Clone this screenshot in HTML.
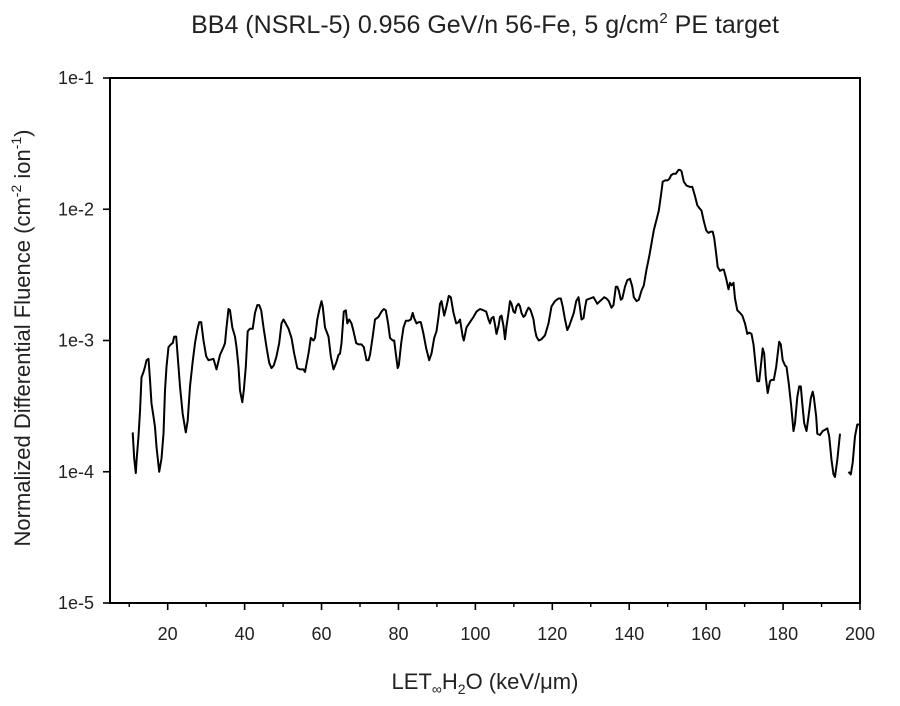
<!DOCTYPE html>
<html><head><meta charset="utf-8"><style>
html,body{margin:0;padding:0;background:#fff;}
svg{display:block;font-family:"Liberation Sans",sans-serif;}
</style></head><body>
<svg width="900" height="706" viewBox="0 0 900 706">
<text x="485" y="33" text-anchor="middle" font-size="25" fill="#222">BB4 (NSRL-5) 0.956 GeV/n 56-Fe, 5 g/cm<tspan dy="-10" font-size="15">2</tspan><tspan dy="10"> PE target</tspan></text>
<g id="axes"></g>
<path id="s1" fill="none" stroke="#000" stroke-width="2" stroke-linejoin="round"/>
<path id="s2" fill="none" stroke="#000" stroke-width="2" stroke-linejoin="round"/>
<rect x="110" y="78" width="750" height="525" fill="none" stroke="#000" stroke-width="2"/>
<text transform="translate(30,338) rotate(-90)" text-anchor="middle" font-size="22" fill="#222">Normalized Differential Fluence (cm<tspan dy="-9" font-size="14">-2</tspan><tspan dy="9"> ion</tspan><tspan dy="-9" font-size="14">-1</tspan><tspan dy="9">)</tspan></text>
<text x="485" y="689" text-anchor="middle" font-size="22" fill="#222">LET<tspan dy="5" font-size="14">∞</tspan><tspan dy="-5">H</tspan><tspan dy="5" font-size="14">2</tspan><tspan dy="-5">O (keV/μm)</tspan></text>
<script>
const xTicks=[20,40,60,80,100,120,140,160,180,200];
const xMinor=[10,30,50,70,90,110,130,150,170,190];
const yTickExp=[-1,-2,-3,-4,-5];
const yTickLabels=["1e-1","1e-2","1e-3","1e-4","1e-5"];
const let1=[10.9,11.3,11.7,11.9,12.4,12.8,13.2,13.7,14.1,14.5,15.0,15.4,15.8,16.3,16.7,17.1,17.8,18.4,18.9,19.3,19.7,20.2,20.8,21.3,21.7,22.2,22.6,23.2,23.9,24.7,25.2,25.8,26.5,27.1,27.7,28.2,28.7,29.3,30.0,30.6,31.9,32.7,33.6,34.5,34.9,35.3,35.8,36.2,36.8,37.5,37.9,38.4,38.8,39.4,39.8,40.3,40.8,41.4,42.1,42.7,43.3,43.8,44.3,44.9,45.7,46.4,47.0,47.6,48.3,49.0,49.6,50.1,50.5,51.4,52.2,52.9,53.7,54.4,55.3,55.7,56.6,57.2,57.9,58.3,58.9,59.4,60.0,60.3,60.9,61.8,62.4,63.1,63.8,64.4,64.8,65.2,65.8,66.3,66.7,67.2,67.8,68.3,69.0,69.6,70.4,71.0,71.7,72.2,72.6,73.3,73.9,74.8,75.6,76.2,76.7,77.3,77.8,78.5,78.9,79.3,79.8,80.1,80.7,81.3,81.9,82.6,83.2,83.7,84.1,84.7,85.3,85.8,86.5,87.2,88.0,88.6,89.3,89.9,90.4,90.8,91.2,91.9,92.5,93.1,93.6,94.3,95.0,95.6,96.0,96.7,97.0,97.7,98.6,99.5,100.3,101.2,102.1,102.8,103.4,103.8,104.2,104.7,105.1,105.5,106.0,106.4,106.8,107.3,107.7,108.1,108.6,109.0,109.4,109.9,110.3,110.7,111.2,111.6,112.0,112.5,112.9,113.3,113.8,114.2,114.6,115.1,115.5,115.9,116.5,117.2,118.1,119.0,119.8,120.7,121.6,122.2,122.7,123.3,123.9,124.4,125.0,125.6,126.2,126.8,127.2,127.6,128.1,128.5,128.9,129.8,130.7,131.1,131.7,132.4,132.8,133.5,134.1,134.7,135.4,135.9,136.5,136.9,137.3,137.8,138.2,138.9,139.5,140.2,140.8,141.2,141.9,142.5,143.2,143.8,144.5,145.2,145.8,146.4,147.1,147.7,148.3,148.7,149.3,149.9,150.4,150.9,151.5,152.1,152.8,153.2,153.6,154.2,154.9,155.8,156.4,157.1,157.7,158.2,158.8,159.4,160.0,160.6,161.2,161.7,162.1,162.6,163.0,163.6,164.2,164.6,165.2,165.8,166.2,166.6,167.1,167.5,168.1,168.8,169.4,170.1,170.7,171.2,171.8,172.3,172.9,173.3,173.8,174.3,174.7,175.1,175.5,176.0,176.6,177.0,177.6,178.2,178.8,179.0,179.4,179.9,180.5,180.9,181.5,182.1,182.7,183.1,183.7,184.2,184.6,185.0,185.5,186.1,186.6,187.2,187.7,188.0,188.6,188.9,189.6,190.3,190.9,191.5,192.0,192.6,193.1,193.5,194.1,194.8];
const logFluence1=[-3.70,-3.90,-4.01,-3.92,-3.73,-3.54,-3.28,-3.24,-3.20,-3.15,-3.14,-3.30,-3.48,-3.58,-3.66,-3.81,-4.00,-3.90,-3.71,-3.38,-3.20,-3.05,-3.03,-3.02,-2.97,-2.97,-3.12,-3.35,-3.56,-3.70,-3.61,-3.35,-3.16,-3.02,-2.92,-2.86,-2.86,-3.00,-3.12,-3.15,-3.14,-3.22,-3.11,-3.05,-3.02,-2.90,-2.76,-2.77,-2.90,-2.97,-3.05,-3.20,-3.38,-3.47,-3.38,-3.20,-2.93,-2.91,-2.91,-2.79,-2.73,-2.73,-2.77,-2.90,-3.05,-3.17,-3.21,-3.19,-3.12,-3.02,-2.87,-2.84,-2.86,-2.91,-2.98,-3.10,-3.21,-3.22,-3.22,-3.24,-3.10,-2.98,-3.00,-2.98,-2.84,-2.77,-2.70,-2.74,-2.90,-2.97,-3.12,-3.22,-3.17,-3.11,-3.10,-3.02,-2.78,-2.77,-2.87,-2.84,-2.87,-2.93,-3.02,-3.03,-3.03,-3.05,-3.15,-3.15,-3.11,-2.97,-2.84,-2.82,-2.78,-2.76,-2.77,-2.87,-2.98,-3.00,-3.00,-3.10,-3.21,-3.19,-3.02,-2.90,-2.85,-2.85,-2.84,-2.79,-2.83,-2.87,-2.86,-2.86,-2.95,-3.06,-3.15,-3.10,-2.98,-2.93,-2.82,-2.72,-2.70,-2.81,-2.74,-2.66,-2.67,-2.79,-2.87,-2.86,-2.84,-2.97,-3.00,-2.90,-2.86,-2.82,-2.78,-2.76,-2.77,-2.78,-2.84,-2.87,-2.83,-2.82,-2.88,-2.95,-2.89,-2.82,-2.81,-2.89,-2.99,-2.89,-2.79,-2.70,-2.72,-2.78,-2.79,-2.74,-2.72,-2.74,-2.79,-2.82,-2.81,-2.78,-2.75,-2.76,-2.79,-2.84,-2.92,-2.97,-3.00,-2.99,-2.96,-2.87,-2.74,-2.70,-2.68,-2.68,-2.74,-2.84,-2.92,-2.89,-2.84,-2.79,-2.70,-2.67,-2.75,-2.84,-2.83,-2.75,-2.69,-2.68,-2.67,-2.69,-2.72,-2.70,-2.69,-2.67,-2.68,-2.70,-2.75,-2.73,-2.59,-2.59,-2.62,-2.69,-2.68,-2.59,-2.54,-2.53,-2.59,-2.67,-2.70,-2.69,-2.62,-2.58,-2.46,-2.36,-2.26,-2.16,-2.08,-2.01,-1.88,-1.79,-1.78,-1.78,-1.77,-1.74,-1.73,-1.73,-1.70,-1.70,-1.71,-1.79,-1.82,-1.83,-1.83,-1.90,-1.97,-1.99,-2.01,-2.09,-2.16,-2.18,-2.17,-2.17,-2.22,-2.34,-2.44,-2.47,-2.46,-2.46,-2.53,-2.61,-2.56,-2.58,-2.56,-2.68,-2.77,-2.79,-2.81,-2.87,-2.95,-2.94,-2.95,-3.03,-3.20,-3.31,-3.31,-3.17,-3.06,-3.10,-3.28,-3.40,-3.31,-3.30,-3.30,-3.20,-3.05,-3.01,-3.03,-3.15,-3.19,-3.20,-3.33,-3.50,-3.69,-3.63,-3.43,-3.35,-3.35,-3.48,-3.63,-3.69,-3.58,-3.44,-3.39,-3.43,-3.58,-3.71,-3.72,-3.69,-3.68,-3.67,-3.73,-3.91,-4.02,-4.04,-3.91,-3.71];
const let2=[197.0,197.6,198.1,198.7,199.3,199.8];
const logFluence2=[-4.00,-4.02,-3.93,-3.73,-3.64,-3.64];

const X0=110,X1=860,Y0=78,Y1=603,XMIN=5,XMAX=200,EMAX=-1,EMIN=-5;
const xs=v=>X0+(v-XMIN)/(XMAX-XMIN)*(X1-X0);
const ys=e=>Y0+(EMAX-e)/(EMAX-EMIN)*(Y1-Y0);
const NS="http://www.w3.org/2000/svg";
const axes=document.getElementById('axes');
function mk(tag,attrs){const el=document.createElementNS(NS,tag);for(const k in attrs)el.setAttribute(k,attrs[k]);axes.appendChild(el);return el;}
xTicks.forEach(v=>{
  const t=mk('line',{x1:xs(v),x2:xs(v),y1:Y1,y2:Y1+7,stroke:'#000','stroke-width':1.6});
  
  
  const l=mk('text',{x:xs(v),y:Y1+37,'text-anchor':'middle','font-size':18,fill:'#222'});
  l.textContent=v;
  
  
});
xMinor.forEach(v=>{
  const t=mk('line',{x1:xs(v),x2:xs(v),y1:Y1,y2:Y1+4,stroke:'#000','stroke-width':1.4});
  
  
});
yTickExp.forEach((e,i)=>{
  const t=mk('line',{x1:X0-7,x2:X0,y1:ys(e),y2:ys(e),stroke:'#000','stroke-width':1.6});
  
  
  const l=mk('text',{x:94,y:ys(e)+6,'text-anchor':'end','font-size':18,fill:'#222'});
  l.textContent=yTickLabels[i];
  
  
});
function pathD(xa,ya){return xa.map((v,i)=>(i?'L':'M')+xs(v).toFixed(1)+','+ys(ya[i]).toFixed(1)).join('');}
document.getElementById('s1').setAttribute('d',pathD(let1,logFluence1));
document.getElementById('s2').setAttribute('d',pathD(let2,logFluence2));
</script>
</svg>
</body></html>
